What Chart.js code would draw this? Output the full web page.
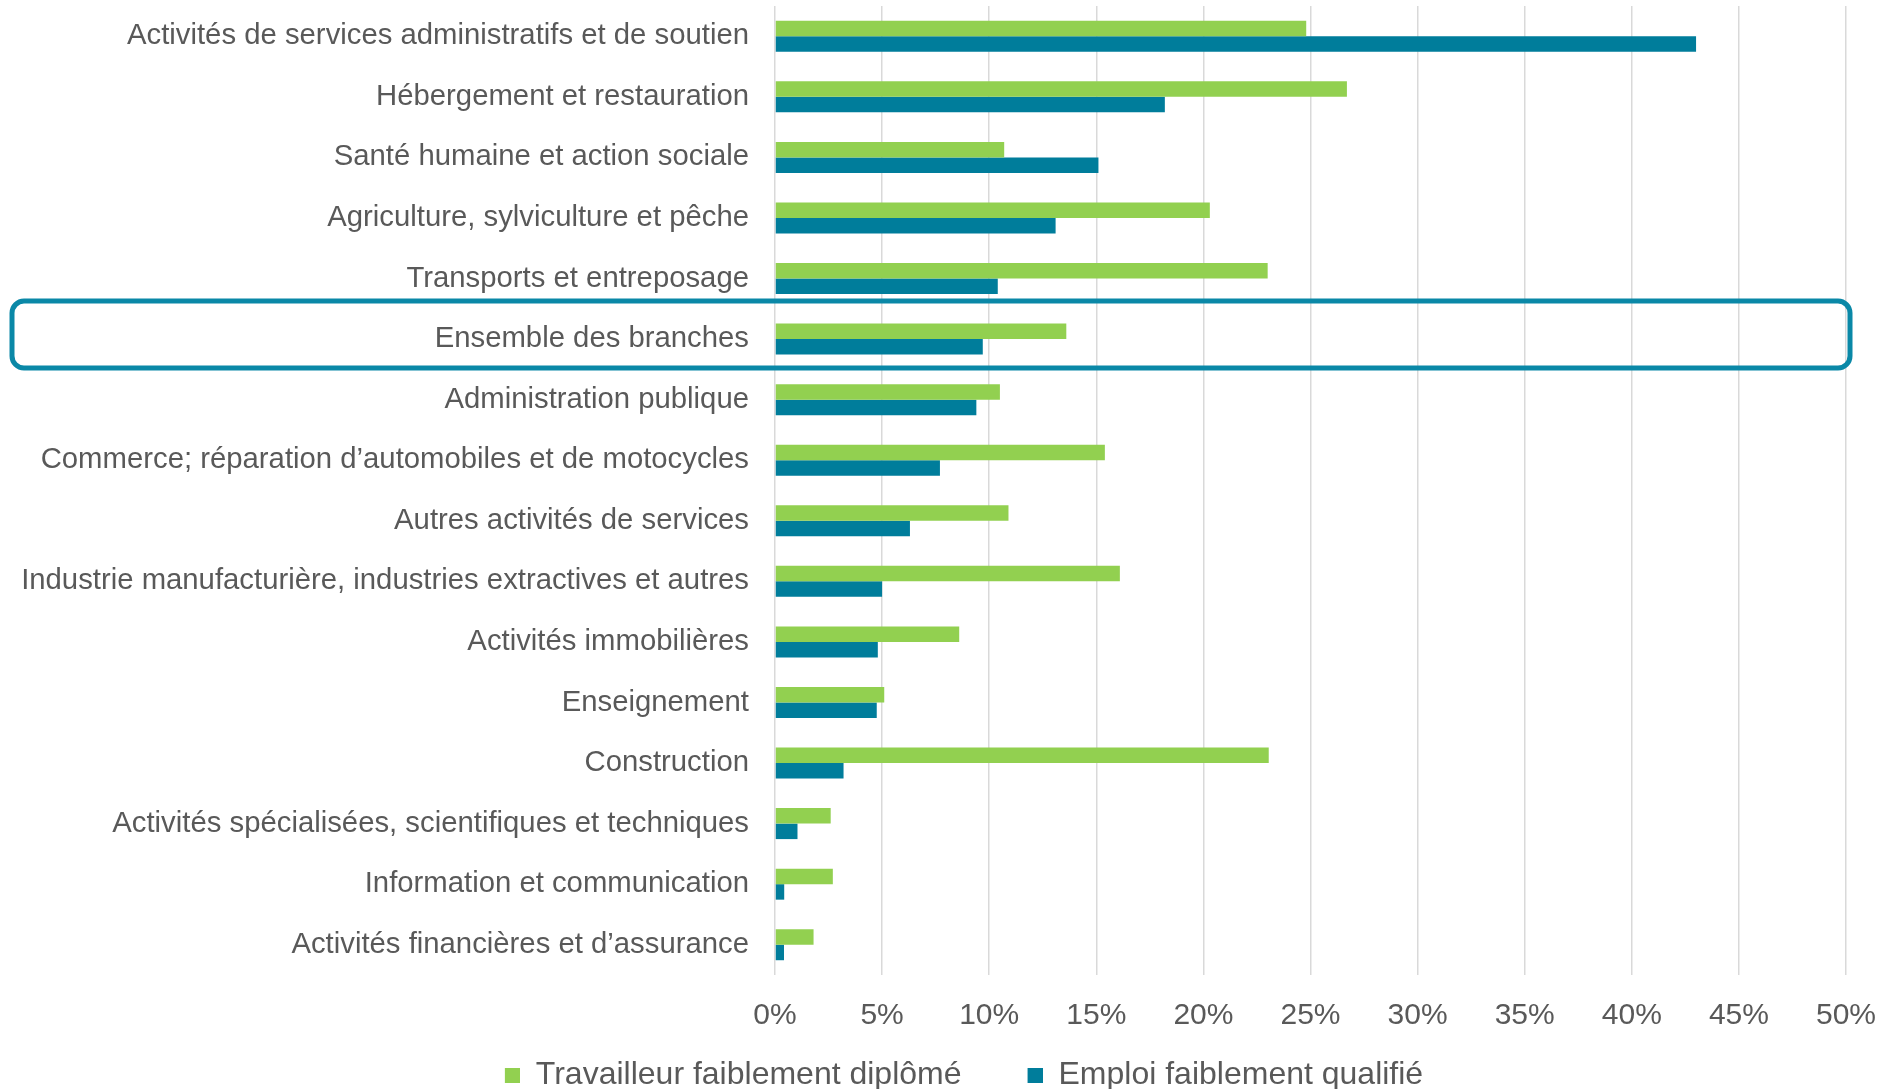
<!DOCTYPE html>
<html>
<head>
<meta charset="utf-8">
<script src="https://cdn.jsdelivr.net/npm/chart.js@4.4.1/dist/chart.umd.min.js"></script>
<style>
  html, body { margin: 0; padding: 0; background: #ffffff; overflow: hidden; }
  #wrap { width: 1885px; height: 1089px; position: relative; }
</style>
</head>
<body>
<div id="wrap"><canvas id="c"></canvas></div>
<script>
const categories = [
  "Activités de services administratifs et de soutien",
  "Hébergement et restauration",
  "Santé humaine et action sociale",
  "Agriculture, sylviculture et pêche",
  "Transports et entreposage",
  "Ensemble des branches",
  "Administration publique",
  "Commerce; réparation d’automobiles et de motocycles",
  "Autres activités de services",
  "Industrie manufacturière, industries extractives et autres",
  "Activités immobilières",
  "Enseignement",
  "Construction",
  "Activités spécialisées, scientifiques et techniques",
  "Information et communication",
  "Activités financières et d’assurance"
];
const seriesNames = ["Travailleur faiblement diplômé", "Emploi faiblement qualifié"];
const lowDiploma = [24.8, 26.7, 10.7, 20.3, 23.0, 13.6, 10.5, 15.4, 10.9, 16.1, 8.6, 5.1, 23.05, 2.6, 2.7, 1.8];
const lowSkill   = [43.0, 18.2, 15.1, 13.1, 10.4, 9.7, 9.4, 7.7, 6.3, 5.0, 4.8, 4.75, 3.2, 1.05, 0.43, 0.42];
const highlightedCategory = "Ensemble des branches";
const xTickStep = 5;
const xMax = 50;

const GREEN = '#92D050';
const BLUE = '#007D9B';
const BOX = '#0A88A7';
const TEXT = '#595959';
const FONT = '"Liberation Sans", Arial, sans-serif';

const PAD_LEFT = 20;
const PLOT_LEFT = 775;

function legendSwatch(color) {
  const cv = document.createElement('canvas');
  cv.width = 77; cv.height = 15;
  const g = cv.getContext('2d');
  g.fillStyle = color;
  g.fillRect(62, 0, 15, 15);
  return cv;
}
const swatches = [legendSwatch(GREEN), legendSwatch(BLUE)];

const highlightBox = {
  id: 'highlightBox',
  afterDraw(chart) {
    const y = chart.scales.y;
    const idx = categories.indexOf(highlightedCategory);
    const cy = y.getPixelForValue(idx);
    const ctx = chart.ctx;
    const x0 = 12, x1 = 1850, y0 = cy - 38, y1 = cy + 29, r = 12;
    ctx.save();
    ctx.strokeStyle = BOX;
    ctx.lineWidth = 5;
    ctx.beginPath();
    ctx.moveTo(x0 + r, y0);
    ctx.lineTo(x1 - r, y0);
    ctx.arcTo(x1, y0, x1, y0 + r, r);
    ctx.lineTo(x1, y1 - r);
    ctx.arcTo(x1, y1, x1 - r, y1, r);
    ctx.lineTo(x0 + r, y1);
    ctx.arcTo(x0, y1, x0, y1 - r, r);
    ctx.lineTo(x0, y0 + r);
    ctx.arcTo(x0, y0, x0 + r, y0, r);
    ctx.closePath();
    ctx.stroke();
    ctx.restore();
  }
};

new Chart(document.getElementById('c'), {
  type: 'bar',
  data: {
    labels: categories,
    datasets: [
      { label: seriesNames[0], data: lowDiploma, backgroundColor: GREEN, categoryPercentage: 0.512, barPercentage: 1.0 },
      { label: seriesNames[1], data: lowSkill, backgroundColor: BLUE, categoryPercentage: 0.512, barPercentage: 1.0 }
    ]
  },
  options: {
    indexAxis: 'y',
    responsive: true,
    maintainAspectRatio: false,
    animation: false,
    devicePixelRatio: 1,
    layout: { padding: { top: 6, right: 39, bottom: -12, left: PAD_LEFT } },
    scales: {
      x: {
        min: 0, max: xMax,
        grid: { color: '#D9D9D9', lineWidth: 1.5, drawTicks: false },
        border: { display: false },
        ticks: {
          stepSize: xTickStep,
          padding: 23,
          color: TEXT,
          font: { family: FONT, size: 30 },
          callback: (v) => v + '%'
        },
        afterFit: (s) => { s.height = 80; s.paddingLeft = 0; s.paddingRight = 0; }
      },
      y: {
        grid: { display: false, drawTicks: false },
        border: { display: false },
        ticks: {
          autoSkip: false,
          padding: 26,
          color: TEXT,
          font: { family: FONT, size: 29.3 }
        },
        afterFit: (s) => { s.width = PLOT_LEFT - PAD_LEFT; s.paddingTop = 0; s.paddingBottom = 0; }
      }
    },
    plugins: {
      tooltip: { enabled: false },
      legend: {
        position: 'bottom',
        labels: {
          usePointStyle: true,
          pointStyleWidth: 77,
          boxHeight: 15,
          padding: 4,
          color: TEXT,
          font: { family: FONT, size: 32 },
          generateLabels: (chart) => {
            const items = Chart.defaults.plugins.legend.labels.generateLabels(chart);
            items.forEach((it, i) => { it.pointStyle = swatches[i]; });
            return items;
          }
        }
      }
    }
  },
  plugins: [highlightBox]
});
</script>
</body>
</html>
